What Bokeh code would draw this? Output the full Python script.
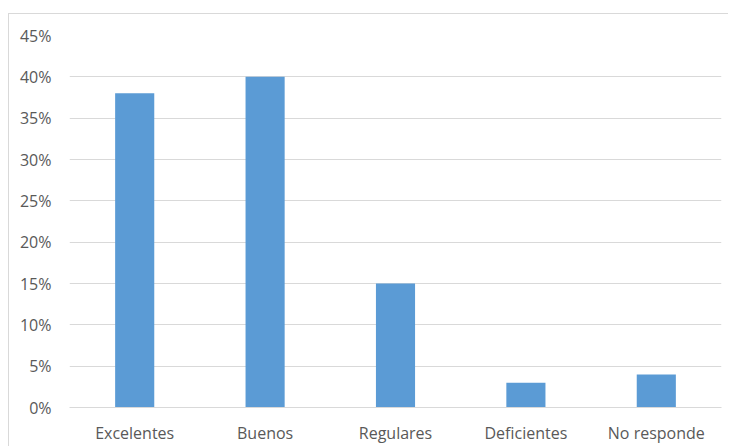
from bokeh.plotting import figure
from bokeh.models import ColumnDataSource, NumeralTickFormatter, FixedTicker, Range1d
from bokeh.embed import file_html
from bokeh.resources import INLINE

categories = ["Excelentes", "Buenos", "Regulares", "Deficientes", "No responde"]
values = [0.38, 0.40, 0.15, 0.03, 0.04]
y_ticks = [0.0, 0.05, 0.10, 0.15, 0.20, 0.25, 0.30, 0.35, 0.40, 0.45]

src = ColumnDataSource(dict(cat=categories, val=values))

p = figure(x_range=categories, y_range=Range1d(0, 0.45), width=720, height=433,
           output_backend="svg", toolbar_location=None,
           min_border_left=60, min_border_right=8, min_border_top=21, min_border_bottom=40,
           margin=(13, 0, 0, 8),
           styles={"border-top": "1px solid #d9d9d9", "border-left": "1px solid #d9d9d9"})

p.vbar(x="cat", top="val", width=0.3, source=src, color="#5b9bd5", line_color=None)

p.outline_line_color = None
p.xgrid.grid_line_color = None
p.ygrid.grid_line_color = "#d9d9d9"
p.ygrid.grid_line_width = 1

p.yaxis.ticker = FixedTicker(ticks=y_ticks)
p.yaxis.formatter = NumeralTickFormatter(format="0%")
p.yaxis.axis_line_color = None
p.yaxis.major_tick_line_color = None
p.yaxis.minor_tick_line_color = None
p.yaxis.major_label_standoff = 12

p.xaxis.axis_line_color = "#d9d9d9"
p.xaxis.major_tick_line_color = None
p.xaxis.minor_tick_line_color = None
p.xaxis.major_label_standoff = 8

for ax in (p.xaxis[0], p.yaxis[0]):
    ax.major_label_text_font = "Open Sans"
    ax.major_label_text_font_size = "16px"
    ax.major_label_text_color = "#595959"

p.x_range.range_padding = 0

open("out.html", "w").write(file_html(p, INLINE))
